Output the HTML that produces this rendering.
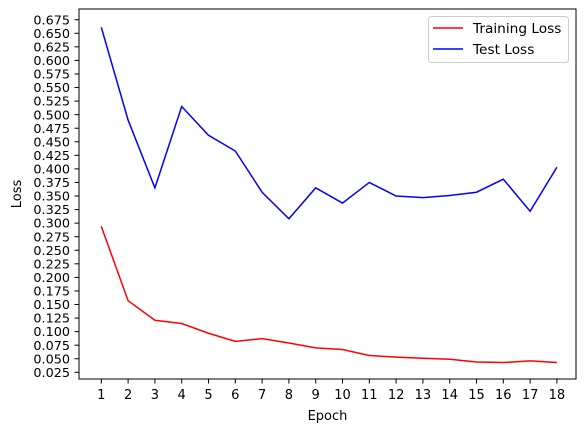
<!DOCTYPE html>
<html><head><meta charset="utf-8"><style>
body{margin:0;background:#fff}
text{font-family:"DejaVu Sans","Liberation Sans",sans-serif;fill:#000}
</style></head><body>
<svg id="chart" width="584" height="432" xmlns="http://www.w3.org/2000/svg">
<rect width="584" height="432" fill="#fff"/>
<g id="ticks"></g>
<g id="lines"></g>
<rect x="79" y="9" width="497" height="370" fill="none" stroke="#000" stroke-width="1"/>
<text x="327.5" y="420" font-size="13" text-anchor="middle">Epoch</text>
<text transform="translate(21,194) rotate(-90)" font-size="13" text-anchor="middle">Loss</text>
<g>
<rect x="428.5" y="16.5" width="140" height="46" rx="3" fill="#fff" stroke="#ccc"/>
<line x1="433" y1="28" x2="463" y2="28" stroke="red" stroke-width="1.5"/>
<text x="473" y="33" font-size="13.7">Training Loss</text>
<line x1="433" y1="49" x2="463" y2="49" stroke="blue" stroke-width="1.5"/>
<text x="473" y="54" font-size="13.7">Test Loss</text>
</g>
</svg>
<script>
const epochs=[1,2,3,4,5,6,7,8,9,10,11,12,13,14,15,16,17,18];
const trainLoss=[0.294,0.157,0.121,0.115,0.097,0.082,0.087,0.079,0.070,0.067,0.056,0.053,0.051,0.049,0.044,0.043,0.046,0.043];
const testLoss=[0.661,0.490,0.365,0.515,0.462,0.433,0.357,0.308,0.365,0.337,0.375,0.350,0.347,0.351,0.357,0.381,0.322,0.403];
const yTicks=[0.025,0.05,0.075,0.1,0.125,0.15,0.175,0.2,0.225,0.25,0.275,0.3,0.325,0.35,0.375,0.4,0.425,0.45,0.475,0.5,0.525,0.55,0.575,0.6,0.625,0.65,0.675];
const NS="http://www.w3.org/2000/svg";
function xs(e){return 101.3+(e-1)*26.8;}
function ys(v){return 372.3-(v-0.025)/0.025*13.56;}
const tg=document.getElementById('ticks');
function mk(t,a){const el=document.createElementNS(NS,t);for(const k in a)el.setAttribute(k,a[k]);return el;}
epochs.forEach(e=>{
 const l=mk('line',{x1:xs(e),x2:xs(e),y1:379,y2:383.5,stroke:'#000'});
 
 
 tg.appendChild(l);
 const t=mk('text',{x:xs(e),y:399,'font-size':13,'text-anchor':'middle'});
 
 
 t.textContent=e;tg.appendChild(t);
});
yTicks.forEach(v=>{
 const l=mk('line',{x1:74.5,x2:79,y1:ys(v),y2:ys(v),stroke:'#000'});
 
 
 tg.appendChild(l);
 const t=mk('text',{x:70,y:ys(v)+4.6,'font-size':12.8,'text-anchor':'end'});
 
 
 t.textContent=v.toFixed(3);tg.appendChild(t);
});
const lg=document.getElementById('lines');
function series(vals,color,name){
 const p=mk('polyline',{points:vals.map((v,i)=>xs(epochs[i])+','+ys(v)).join(' '),fill:'none',stroke:color,'stroke-width':1.5});
 
 
 lg.appendChild(p);
}
series(trainLoss,'red','training-loss-line');
series(testLoss,'blue','test-loss-line');
</script>
</body></html>
